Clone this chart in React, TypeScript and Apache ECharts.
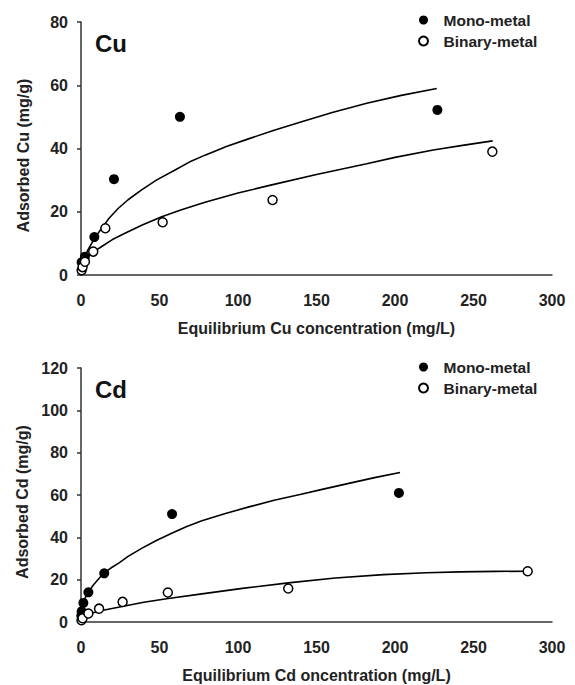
import React, { useEffect, useRef } from "react";
import * as echarts from "echarts";

// ---- Data ----
const xTicks = [0, 50, 100, 150, 200, 250, 300];

// Cu panel
const cuMonoX = [0.4, 2.5, 8.5, 21, 63, 227];
const cuMonoY = [4.0, 5.8, 12.0, 30.3, 50.0, 52.2];
const cuBinX = [0.4, 1.0, 2.5, 7.8, 15.5, 52, 122, 262];
const cuBinY = [1.5, 2.5, 4.2, 7.4, 14.8, 16.7, 23.7, 39.0];
const cuMonoFitX = [0, 1, 2.5, 4.5, 6.8, 10, 13.2, 18, 23.8, 30, 38.6, 48, 59.9, 69, 79, 93, 107.6, 123, 139.5, 160, 182, 204, 226.6];
const cuMonoFitY = [2.1, 4.0, 5.8, 8.0, 10.0, 12.6, 14.8, 18.0, 21.1, 23.8, 26.9, 30.0, 33.2, 35.7, 37.9, 40.7, 43.2, 45.8, 48.3, 51.4, 54.3, 56.8, 59.0];
const cuBinFitX = [0, 1.5, 4, 6.8, 13.2, 20, 28, 39, 51.4, 64, 79, 100, 121.5, 150, 182, 200, 224.4, 243, 262.2];
const cuBinFitY = [2.6, 4.2, 5.8, 6.9, 9.0, 11.2, 13.2, 15.8, 18.4, 20.6, 23.0, 25.9, 28.5, 31.8, 35.2, 37.2, 39.5, 41.0, 42.4];

// Cd panel
const cdMonoX = [0.2, 0.4, 1.5, 4.7, 14.8, 58, 202.5];
const cdMonoY = [3.0, 5.0, 9.0, 14.0, 23.0, 51.0, 61.0];
const cdBinX = [0.3, 1.0, 4.7, 11.5, 26.5, 55.3, 132, 284.5];
const cdBinY = [0.8, 1.8, 4.0, 6.3, 9.5, 13.9, 15.8, 24.0];
const cdMonoFitX = [0, 0.7, 1.5, 3, 4.7, 8, 14.2, 19, 23.8, 30, 38.6, 48, 57.8, 67, 77, 92, 107.6, 123, 139.5, 155, 171.3, 187, 203.2];
const cdMonoFitY = [5.5, 7.8, 9.5, 12.0, 14.2, 17.6, 22.9, 25.5, 27.7, 31.0, 34.8, 38.5, 41.9, 45.0, 47.8, 51.3, 54.5, 57.5, 60.2, 62.9, 65.6, 68.2, 70.6];
const cdBinFitX = [0, 2.5, 11, 27, 40, 55.6, 77, 104, 132, 162, 192.6, 220, 241.4, 264, 284.9];
const cdBinFitY = [2.4, 3.2, 5.1, 7.4, 9.3, 11.1, 13.3, 16.0, 18.5, 20.8, 22.4, 23.3, 23.7, 23.9, 24.0];

const seriesNames = ["Mono-metal", "Binary-metal"];
const panelLabels = ["Cu", "Cd"];
const xNames = ["Equilibrium Cu concentration (mg/L)", "Equilibrium Cd oncentration (mg/L)"];
const yNames = ["Adsorbed Cu (mg/g)", "Adsorbed Cd (mg/g)"];
const yMax = [80, 120];

const FONT = "'Liberation Sans', Arial, sans-serif";
const TXT = "#222";

const zip = (xs: number[], ys: number[]) => xs.map((x, i) => [x, ys[i]]);

export default function App() {
  const ref = useRef<HTMLDivElement>(null);
  useEffect(() => {
    if (!ref.current) return;
    const chart = echarts.init(ref.current, null, { renderer: "svg" });

    const grids = [
      { left: 81, top: 22, width: 471, height: 253 },
      { left: 81, top: 368, width: 471, height: 254 },
    ];

    const xAxes = grids.map((_, i) => ({
      type: "value",
      gridIndex: i,
      min: xTicks[0],
      max: xTicks[xTicks.length - 1],
      interval: 50,
      name: xNames[i],
      nameLocation: "middle",
      nameGap: 45,
      nameTextStyle: { fontFamily: FONT, fontWeight: "bold", fontSize: 16, color: TXT },
      axisLine: { show: true, lineStyle: { color: "#333", width: 1.5 } },
      axisTick: { show: false },
      splitLine: { show: false },
      axisLabel: { margin: 17, fontFamily: FONT, fontWeight: "bold", fontSize: 16, color: TXT },
    }));

    const yAxes = grids.map((_, i) => ({
      type: "value",
      gridIndex: i,
      min: 0,
      max: yMax[i],
      interval: 20,
      name: yNames[i],
      nameLocation: "middle",
      nameGap: 50,
      nameTextStyle: {
        fontFamily: FONT, fontWeight: "bold", fontSize: 16, color: TXT,
        padding: [0, 14, 0, 0],
      },
      axisLine: { show: true, lineStyle: { color: "#333", width: 1.5 } },
      axisTick: { show: true, inside: false, length: 4, lineStyle: { color: "#333", width: 1.5 } },
      splitLine: { show: false },
      axisLabel: { margin: 13, fontFamily: FONT, fontWeight: "bold", fontSize: 16, color: TXT },
    }));

    const monoStyle = { color: "#000", opacity: 1 };
    const binStyle = { color: "#fff", borderColor: "#000", borderWidth: 1.5, opacity: 1 };
    const lineOpts = {
      type: "line",
      showSymbol: false,
      symbol: "none",
      smooth: false,
      lineStyle: { color: "#000", width: 1.6 },
      silent: true,
      z: 2,
    };

    const panels = [
      { mono: zip(cuMonoX, cuMonoY), bin: zip(cuBinX, cuBinY), mf: zip(cuMonoFitX, cuMonoFitY), bf: zip(cuBinFitX, cuBinFitY) },
      { mono: zip(cdMonoX, cdMonoY), bin: zip(cdBinX, cdBinY), mf: zip(cdMonoFitX, cdMonoFitY), bf: zip(cdBinFitX, cdBinFitY) },
    ];

    const series: any[] = [];
    panels.forEach((p, i) => {
      series.push({ ...lineOpts, name: "fit-mono-" + i, xAxisIndex: i, yAxisIndex: i, data: p.mf });
      series.push({ ...lineOpts, name: "fit-bin-" + i, xAxisIndex: i, yAxisIndex: i, data: p.bf });
      series.push({
        type: "scatter", name: seriesNames[0], xAxisIndex: i, yAxisIndex: i,
        symbol: "circle", symbolSize: 10, itemStyle: monoStyle, data: p.mono, z: 3,
      });
      series.push({
        type: "scatter", name: seriesNames[1], xAxisIndex: i, yAxisIndex: i,
        symbol: "circle", symbolSize: 9, itemStyle: binStyle, data: p.bin, z: 4,
      });
    });

    const legendTops = [7, 354];
    const legends = legendTops.map((t) => ({
      data: seriesNames,
      orient: "vertical",
      left: 413,
      top: t,
      itemWidth: 20,
      itemHeight: 9,
      itemGap: 5,
      selectedMode: false,
      textStyle: { fontFamily: FONT, fontWeight: "bold", fontSize: 15.5, color: TXT, padding: [0, 0, 0, 5] },
    }));

    const labelYs = [44, 390];
    chart.setOption({
      animation: false,
      backgroundColor: "#fff",
      grid: grids,
      xAxis: xAxes,
      yAxis: yAxes,
      legend: legends,
      series,
      graphic: panelLabels.map((t, i) => ({
        type: "text",
        left: 95,
        top: labelYs[i] - 13,
        style: { text: t, fontFamily: FONT, fontWeight: "bold", fontSize: 24, fill: "#111" },
      })),
    });

    return () => chart.dispose();
  }, []);

  return (
    <div
      ref={ref}
      style={{ position: "fixed", left: 0, top: 0, width: 575, height: 685, background: "#fff" }}
    />
  );
}
